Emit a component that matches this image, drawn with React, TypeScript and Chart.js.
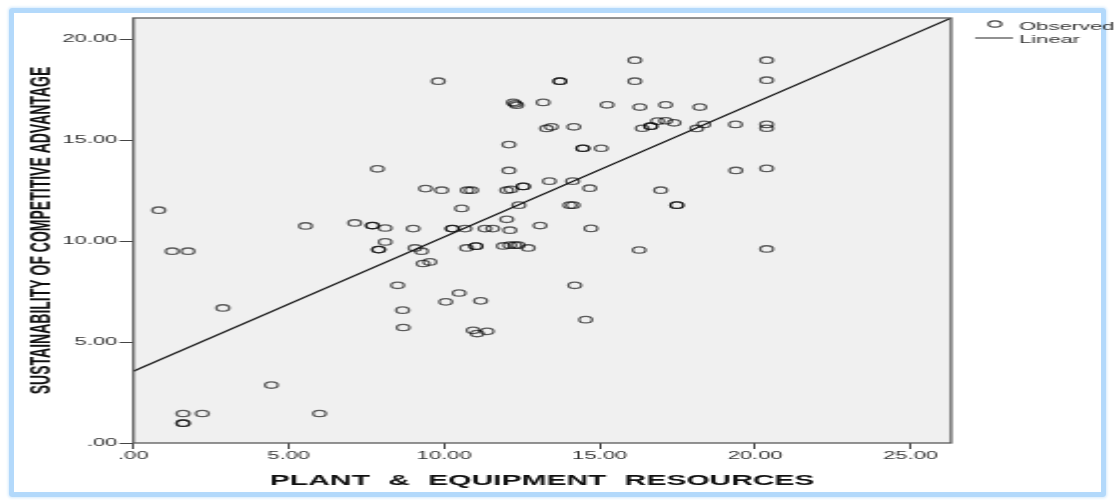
import React, { useEffect, useRef } from 'react';
import { Chart, registerables } from 'chart.js';

Chart.register(...registerables);

// ---------- data ----------
const observedX = [
  0.82, 1.25, 1.76, 2.88, 4.44, 1.6, 2.22, 1.6, 1.6, 5.99,
  5.54, 7.12, 7.69, 7.69, 8.1, 7.85, 8.1, 7.89, 7.89, 8.5,
  8.66, 8.68, 9.0, 9.06, 9.27, 9.32, 9.54, 9.4, 9.92, 9.81,
  10.05, 10.48, 11.17, 10.93, 11.06, 11.38, 10.26, 10.26, 10.67, 11.31,
  11.56, 12.11, 13.08, 14.72, 10.72, 11.02, 11.02, 11.9, 12.11, 12.27,
  12.38, 12.7, 16.27, 14.2, 14.55, 10.56, 12.01, 12.4, 14.04, 14.15,
  17.48, 17.48, 10.74, 10.88, 12.01, 12.15, 12.54, 12.54, 13.38, 14.13,
  14.68, 16.96, 12.08, 19.38, 20.37, 12.08, 14.46, 14.46, 15.05, 13.29,
  13.45, 14.17, 16.37, 16.64, 16.64, 16.86, 17.12, 17.39, 18.12, 18.35,
  19.37, 20.37, 20.37, 12.22, 12.28, 12.33, 13.18, 15.24, 16.29, 17.12,
  18.22, 13.72, 13.72, 16.13, 20.37, 16.13, 20.37, 20.37,
];
const observedY = [
  11.53, 9.5, 9.5, 6.69, 2.87, 1.46, 1.46, 0.98, 0.98, 1.46,
  10.75, 10.9, 10.77, 10.77, 10.65, 13.58, 9.96, 9.58, 9.58, 7.81,
  6.58, 5.72, 10.62, 9.66, 9.5, 8.89, 8.97, 12.6, 12.52, 17.92,
  6.99, 7.43, 7.04, 5.58, 5.42, 5.53, 10.62, 10.62, 10.62, 10.62,
  10.62, 10.54, 10.77, 10.63, 9.66, 9.75, 9.75, 9.76, 9.8, 9.8,
  9.8, 9.66, 9.56, 7.81, 6.11, 11.62, 11.08, 11.78, 11.78, 11.78,
  11.78, 11.78, 12.52, 12.52, 12.52, 12.56, 12.71, 12.71, 12.97, 12.97,
  12.62, 12.52, 13.5, 13.5, 13.6, 14.78, 14.6, 14.6, 14.6, 15.58,
  15.66, 15.66, 15.59, 15.69, 15.69, 15.94, 15.96, 15.86, 15.58, 15.78,
  15.78, 15.78, 15.59, 16.87, 16.8, 16.73, 16.87, 16.75, 16.64, 16.75,
  16.64, 17.92, 17.92, 17.92, 17.97, 18.96, 18.96, 9.61,
];
const linearX = [0, 26.3];
const linearY = [3.55, 21.05];

const xTickValues = [0, 5, 10, 15, 20, 25];
const yTickValues = [0, 5, 10, 15, 20];
const xRange = [0, 26.3];
const yRange = [0, 21.05];

const xTitle = 'PLANT & EQUIPMENT RESOURCES';
const yTitle = 'SUSTAINABILITY OF COMPETITIVE ADVANTAGE';
const legendLabels = ['Observed', 'Linear'];

// ---------- layout (internal canvas is drawn at half width, then stretched) ----------
const CSS_W = 1115;
const CSS_H = 500;
const INT_W = 558;
const SX = CSS_W / INT_W;
const PLOT_LEFT = 133.3 / SX;
const PLOT_RIGHT = 951 / SX;
const PLOT_TOP = 18;
const PLOT_BOTTOM = 443;

const FONT = 'Arial, "Liberation Sans", Helvetica, sans-serif';
const MARK = 'rgba(0,0,0,0.62)';

const fmt = (v: number) => v.toFixed(2).replace(/^0(?=\.)/, '');

const spssPlugin = {
  id: 'spssDecor',
  beforeDatasetsDraw(chart: any) {
    const { ctx, chartArea: a } = chart;
    ctx.save();
    ctx.fillStyle = '#f0f0f0';
    ctx.fillRect(a.left, a.top, a.right - a.left, a.bottom - a.top);
    ctx.restore();
  },
  afterDraw(chart: any) {
    const { ctx, chartArea: a } = chart;
    ctx.save();
    // plot frame
    ctx.strokeStyle = '#5a5a5a';
    ctx.lineWidth = 1.3;
    ctx.strokeRect(a.left, a.top, a.right - a.left, a.bottom - a.top);

    // y title
    ctx.fillStyle = '#111';
    ctx.font = `bold 14px ${FONT}`;
    ctx.textAlign = 'center';
    ctx.textBaseline = 'middle';
    ctx.save();
    ctx.translate(43 / SX, (a.top + a.bottom) / 2);
    ctx.rotate(-Math.PI / 2);
    ctx.fillText(yTitle, 0, 0);
    ctx.restore();

    // x title
    ctx.save();
    ctx.font = `bold 15px ${FONT}`;
    (ctx as any).wordSpacing = '5px';
    ctx.textAlign = 'center';
    ctx.textBaseline = 'alphabetic';
    ctx.fillText(xTitle, (a.left + a.right) / 2, 485);
    ctx.restore();

    // legend
    const mx = 995 / SX;
    ctx.strokeStyle = '#444';
    ctx.lineWidth = 1.2;
    ctx.beginPath();
    ctx.arc(mx, 24, 3.2, 0, Math.PI * 2);
    ctx.stroke();
    ctx.strokeStyle = '#222';
    ctx.lineWidth = 1;
    ctx.beginPath();
    ctx.moveTo(975 / SX, 38);
    ctx.lineTo(1013 / SX, 38);
    ctx.stroke();
    ctx.fillStyle = '#333';
    ctx.font = `11px ${FONT}`;
    ctx.textAlign = 'left';
    ctx.textBaseline = 'alphabetic';
    ctx.fillText(legendLabels[0], 1019 / SX, 30);
    ctx.fillText(legendLabels[1], 1019 / SX, 42.5);
    ctx.restore();
  },
};

export default function App() {
  const ref = useRef<HTMLCanvasElement | null>(null);

  useEffect(() => {
    const canvas = ref.current;
    if (!canvas) return;
    const chart = new Chart(canvas, {
      type: 'scatter',
      data: {
        datasets: [
          {
            type: 'line',
            label: legendLabels[1],
            data: linearX.map((x, i) => ({ x, y: linearY[i] })),
            borderColor: '#1a1a1a',
            borderWidth: 1.2,
            pointRadius: 0,
            fill: false,
            tension: 0,
          },
          {
            type: 'scatter',
            label: legendLabels[0],
            data: observedX.map((x, i) => ({ x, y: observedY[i] })),
            pointStyle: 'circle',
            pointRadius: 3.2,
            pointHoverRadius: 3.2,
            pointBorderWidth: 1.3,
            pointBorderColor: MARK,
            pointBackgroundColor: 'rgba(0,0,0,0)',
          },
        ],
      },
      options: {
        responsive: false,
        animation: false,
        devicePixelRatio: 1,
        events: [],
        layout: {
          padding: { left: 0, top: PLOT_TOP, right: INT_W - PLOT_RIGHT, bottom: 0 },
        },
        plugins: {
          legend: { display: false },
          tooltip: { enabled: false },
        },
        scales: {
          x: {
            type: 'linear',
            min: xRange[0],
            max: xRange[1],
            afterBuildTicks: (s: any) => {
              s.ticks = xTickValues.map((value) => ({ value }));
            },
            afterFit: (s: any) => {
              s.height = CSS_H - PLOT_BOTTOM;
            },
            border: { display: false },
            grid: {
              drawOnChartArea: false,
              drawTicks: true,
              tickLength: 6,
              tickColor: '#444',
              tickWidth: 1,
            },
            ticks: {
              autoSkip: false,
              maxRotation: 0,
              includeBounds: false,
              padding: 0,
              color: '#333',
              font: { family: FONT, size: 11 },
              callback: (v: any) => fmt(Number(v)),
            },
          },
          y: {
            type: 'linear',
            min: yRange[0],
            max: yRange[1],
            afterBuildTicks: (s: any) => {
              s.ticks = yTickValues.map((value) => ({ value }));
            },
            afterFit: (s: any) => {
              s.width = PLOT_LEFT;
            },
            border: { display: false },
            grid: {
              drawOnChartArea: false,
              drawTicks: true,
              tickLength: 7,
              tickColor: '#444',
              tickWidth: 1,
            },
            ticks: {
              autoSkip: false,
              includeBounds: false,
              padding: 1,
              color: '#333',
              font: { family: FONT, size: 11 },
              callback: (v: any) => fmt(Number(v)),
            },
          },
        },
      },
      plugins: [spssPlugin],
    } as any);
    return () => chart.destroy();
  }, []);

  return (
    <div
      style={{
        position: 'fixed',
        left: 0,
        top: 0,
        width: CSS_W,
        height: CSS_H,
        background: '#fff',
        overflow: 'hidden',
      }}
    >
      <div
        style={{
          position: 'absolute',
          left: 9,
          top: 8,
          width: 1097,
          height: 489,
          boxSizing: 'border-box',
          border: '5px solid #b3d9fb',
          borderRadius: 3,
          boxShadow: '0 0 3px 1px #d6ebfd',
        }}
      />
      <canvas
        ref={ref}
        width={INT_W}
        height={CSS_H}
        style={{ position: 'absolute', left: 0, top: 0, width: CSS_W, height: CSS_H }}
      />
    </div>
  );
}
